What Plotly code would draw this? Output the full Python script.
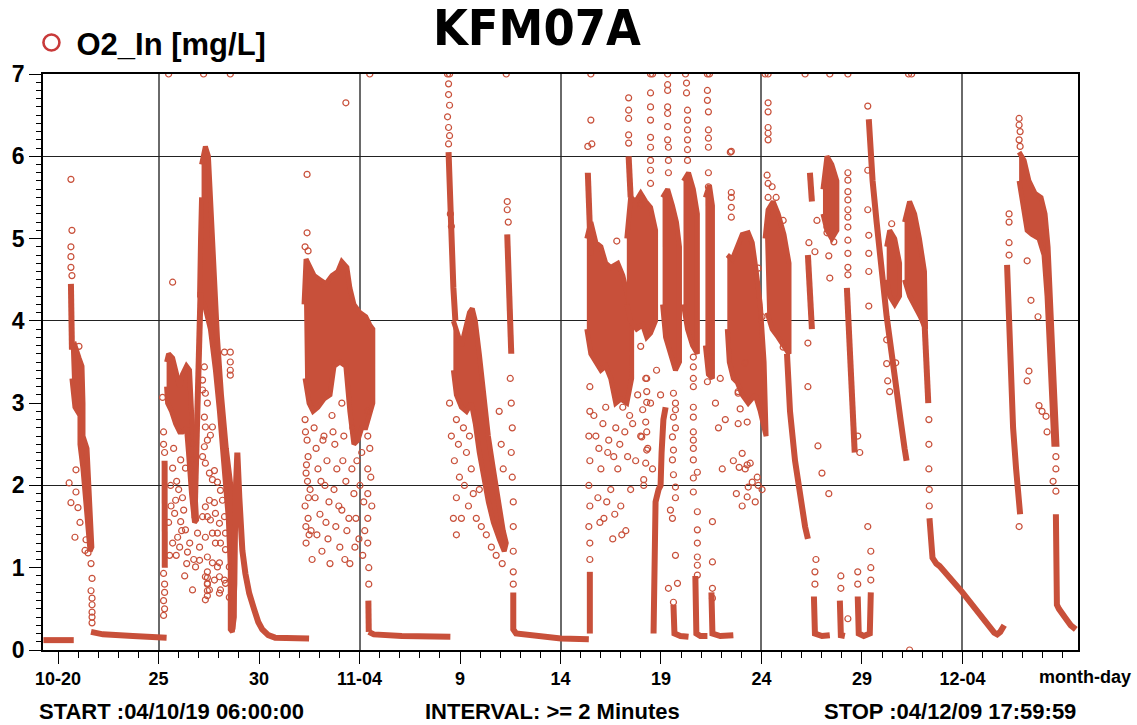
import pandas as pd
import plotly.graph_objects as go

C = "#C8503A"
ORIGIN = pd.Timestamp("2004-10-01")  # day number 1 = 2004-10-01 00:00


def T(days):
    return [ORIGIN + pd.Timedelta(days=d - 1) for d in days]

# ---------------- data (day number, O2 mg/L) ----------------
# dense polygons (outline of solid point clouds)
a_poly_t = [20.64, 20.84, 21.04, 21.19, 21.24, 21.24, 21.44, 21.59, 21.68, 21.59, 21.44, 21.24, 21.09, 21.09, 20.84, 20.69]
a_poly_v = [3.65, 3.70, 3.55, 3.45, 3.00, 2.60, 2.45, 1.80, 1.25, 1.20, 1.70, 2.20, 2.50, 2.85, 2.95, 3.30]
b_blob_t = [25.40, 25.50, 25.70, 25.90, 26.05, 26.19, 26.39, 26.54, 26.64, 26.74, 26.84, 26.89, 26.79, 26.64, 26.49, 26.39, 26.19, 26.05, 25.85, 25.65, 25.45, 25.40]
b_blob_v = [3.50, 3.60, 3.55, 3.35, 3.20, 3.35, 3.45, 3.40, 3.00, 2.40, 1.80, 1.58, 1.55, 1.90, 2.40, 2.70, 2.65, 2.65, 2.75, 2.90, 3.00, 3.20]
b_peak_t = [27.14, 27.24, 27.33, 27.48, 27.58, 27.73, 27.93, 28.13, 28.37, 28.62, 28.77, 28.77, 28.67, 28.57, 28.57, 28.47,
            28.28, 28.03, 27.83, 27.58, 27.28, 27.04, 27.09, 27.14]
b_peak_v = [5.90, 6.05, 6.12, 6.00, 5.50, 4.70, 3.80, 3.10, 2.45, 1.95, 1.30, 0.40, 0.22, 0.25, 1.00, 1.60,
            2.20, 2.90, 3.40, 3.90, 4.20, 4.30, 5.00, 5.50]
c_poly_t = [32.24, 32.34, 32.54, 32.74, 33.03, 33.33, 33.63, 33.92, 34.12, 34.37, 34.52, 34.72, 35.02, 35.31, 35.51, 35.66,
            35.66, 35.51, 35.31, 35.11, 34.92, 34.72, 34.52, 34.32, 34.02, 33.73, 33.53, 33.23, 32.93, 32.69, 32.49, 32.29]
c_poly_v = [4.20, 4.75, 4.65, 4.55, 4.50, 4.45, 4.55, 4.60, 4.72, 4.65, 4.40, 4.20, 4.10, 4.05, 3.95, 3.90,
            3.00, 2.85, 2.70, 2.70, 2.55, 2.50, 2.90, 3.45, 3.50, 3.45, 3.10, 3.05, 2.95, 2.90, 3.00, 3.30]
d_poly_t = [39.67, 39.87, 40.07, 40.27, 40.47, 40.61, 40.76, 40.96, 41.16, 41.41, 41.66, 41.90, 42.15, 42.30,
            42.20, 41.95, 41.66, 41.41, 41.16, 40.96, 40.76, 40.56, 40.32, 40.07, 39.82, 39.67]
d_poly_v = [4.00, 3.85, 3.70, 3.90, 4.10, 4.15, 4.00, 3.60, 3.10, 2.60, 2.20, 1.80, 1.45, 1.30,
            1.20, 1.35, 1.55, 1.80, 2.10, 2.40, 2.75, 3.00, 2.90, 2.95, 3.10, 3.40]
e1_poly_t = [46.31, 46.51, 46.76, 47.01, 47.25, 47.50, 47.85, 48.10, 48.34, 48.54, 48.54, 48.30, 48.00, 47.75, 47.50, 47.25, 47.01, 46.76, 46.51, 46.31]
e1_poly_v = [5.00, 5.20, 4.95, 4.90, 4.70, 4.65, 4.70, 4.55, 4.30, 4.05, 3.30, 3.00, 3.05, 3.00, 3.30, 3.45, 3.40, 3.50, 3.60, 3.90]
e2_poly_t = [48.30, 48.49, 48.74, 48.99, 49.24, 49.48, 49.73, 49.73, 49.48, 49.29, 49.09, 48.79, 48.49, 48.30]
e2_poly_v = [5.00, 5.50, 5.45, 5.55, 5.45, 5.38, 5.10, 4.00, 3.85, 3.80, 3.95, 3.90, 4.00, 4.20]
e3_poly_t = [50.08, 50.33, 50.57, 50.77, 50.92, 50.92, 50.72, 50.48, 50.23, 50.08]
e3_poly_v = [5.50, 5.60, 5.40, 5.20, 4.90, 3.50, 3.40, 3.60, 3.80, 4.20]
e4_poly_t = [51.12, 51.37, 51.61, 51.81, 51.81, 51.57, 51.32, 51.12]
e4_poly_v = [5.70, 5.80, 5.60, 5.30, 3.60, 3.70, 3.90, 4.20]
e5_poly_t = [52.21, 52.41, 52.56, 52.56, 52.36, 52.21]
e5_poly_v = [5.50, 5.65, 5.40, 3.30, 3.35, 3.70]
e6_poly_t = [53.30, 53.55, 53.80, 54.04, 54.34, 54.54, 54.74, 54.94, 55.13, 55.23, 54.94, 54.69, 54.34, 54.04, 53.80, 53.60, 53.40, 53.30]
e6_poly_v = [4.80, 4.75, 4.90, 5.05, 5.07, 4.95, 4.60, 4.20, 3.50, 2.60, 2.90, 3.10, 3.00, 3.10, 3.25, 3.30, 3.50, 3.90]
f1_poly_t = [55.18, 55.33, 55.58, 55.83, 56.12, 56.37, 56.37, 56.12, 55.83, 55.53, 55.28]
f1_poly_v = [5.00, 5.35, 5.45, 5.30, 5.05, 4.70, 3.60, 3.70, 3.80, 3.90, 4.10]
f2_poly_t = [58.06, 58.26, 58.50, 58.75, 58.75, 58.50, 58.26, 58.06]
f2_poly_v = [5.60, 6.00, 5.90, 5.70, 5.10, 5.00, 5.10, 5.30]
f3_poly_t = [61.23, 61.38, 61.63, 61.87, 61.87, 61.63, 61.38, 61.23]
f3_poly_v = [4.90, 5.10, 5.00, 4.70, 4.30, 4.20, 4.30, 4.50]
f4_poly_t = [62.12, 62.37, 62.62, 62.86, 63.11, 63.16, 62.91, 62.62, 62.37, 62.12]
f4_poly_v = [5.20, 5.45, 5.30, 5.00, 4.60, 3.90, 4.05, 4.20, 4.30, 4.50]
g_poly_t = [67.82, 68.07, 68.31, 68.61, 68.91, 69.11, 69.26, 69.36, 69.46, 69.60, 69.70,
            69.55, 69.46, 69.36, 69.21, 69.06, 68.81, 68.46, 68.22, 68.02, 67.82]
g_poly_v = [6.05, 5.95, 5.70, 5.55, 5.50, 5.30, 4.90, 4.40, 3.70, 3.00, 2.50,
            2.50, 3.00, 3.70, 4.30, 4.80, 5.00, 5.05, 5.10, 5.40, 5.70]

# dense strands (continuous bands of points)
a_flat_t = [19.27, 20.78]
a_flat_v = [0.12, 0.12]
a_col_t = [20.64, 20.66, 20.69]
a_col_v = [4.45, 4.00, 3.65]
a_low_t = [21.64, 22.23, 23.72, 25.40]
a_low_v = [0.22, 0.19, 0.17, 0.15]
b_col_t = [25.30, 25.31]
b_col_v = [2.30, 1.00]
b_rise_t = [26.79, 26.89, 26.99, 27.04, 27.09]
b_rise_v = [1.60, 2.60, 3.30, 3.80, 4.35]
b_decay_t = [28.67, 28.77, 28.82, 28.87, 28.92, 29.02, 29.17, 29.32, 29.51, 29.76, 29.96, 30.16, 30.46, 30.80, 31.65, 32.49]
b_decay_v = [0.25, 0.80, 1.80, 2.30, 2.40, 1.85, 1.21, 0.93, 0.69, 0.49, 0.34, 0.25, 0.18, 0.15, 0.14, 0.14]
c_col_t = [35.44, 35.46]
c_col_v = [0.60, 0.22]
c_low_t = [35.46, 35.71, 37.10, 39.52]
c_low_v = [0.22, 0.19, 0.17, 0.16]
d_col_t = [39.43, 39.48, 39.57, 39.67, 39.77]
d_col_v = [6.05, 5.60, 5.00, 4.40, 4.00]
d_str_t = [42.35, 42.40, 42.45, 42.50, 42.55]
d_str_v = [5.05, 4.60, 4.20, 3.85, 3.60]
d_low_t = [42.65, 42.65, 42.79, 44.03, 45.02, 46.41]
d_low_v = [0.70, 0.25, 0.20, 0.17, 0.14, 0.13]
e_col_t = [46.36, 46.41, 46.51]
e_col_v = [5.80, 5.30, 4.80]
e_bot_t = [46.46, 46.46]
e_bot_v = [0.95, 0.20]
e2_col_t = [48.39, 48.49]
e2_col_v = [6.00, 5.50]
e_rise_t = [49.63, 49.68, 49.73, 49.88, 49.98, 50.03, 50.12, 50.23]
e_rise_v = [0.20, 1.00, 1.80, 1.95, 2.00, 2.40, 2.80, 2.95]
e_low2_t = [50.62, 50.67, 50.97, 51.37]
e_low2_v = [0.55, 0.20, 0.17, 0.16]
e_low3_t = [51.71, 51.76, 51.96, 52.31]
e_low3_v = [0.90, 0.20, 0.17, 0.17]
e_low4_t = [52.51, 52.56, 52.95, 53.60]
e_low4_v = [0.70, 0.20, 0.17, 0.18]
f_decay_t = [56.27, 56.32, 56.42, 56.67, 56.92, 57.17, 57.31]
f_decay_v = [3.60, 3.35, 2.90, 2.30, 1.85, 1.50, 1.35]
f_col1_t = [57.41, 57.51]
f_col1_v = [5.80, 5.45]
f_col2_t = [57.31, 57.51]
f_col2_v = [4.80, 3.90]
f_col3_t = [59.25, 59.35, 59.45, 59.54, 59.64]
f_col3_v = [4.40, 3.80, 3.20, 2.80, 2.40]
f_long_t = [60.34, 60.39, 60.53, 60.73, 60.88, 61.03, 61.23, 61.48, 61.73, 61.92, 62.12, 62.22]
f_long_v = [6.45, 6.20, 5.70, 5.20, 4.80, 4.40, 4.05, 3.60, 3.20, 2.80, 2.45, 2.30]
f_low1_t = [57.61, 57.66, 58.01, 58.40]
f_low1_v = [0.65, 0.20, 0.17, 0.18]
f_low2_t = [58.90, 58.95, 59.15]
f_low2_v = [0.60, 0.18, 0.17]
f_low3_t = [59.79, 59.84, 60.09, 60.39, 60.44]
f_low3_v = [0.65, 0.20, 0.17, 0.20, 0.70]
g_drop_t = [63.11, 63.21, 63.30]
g_drop_v = [4.00, 3.50, 3.00]
g_decl_t = [63.36, 63.41, 63.51, 63.70, 63.86, 65.00, 65.84, 66.33, 66.58, 66.73, 66.88, 67.08]
g_decl_v = [1.60, 1.30, 1.12, 1.05, 1.02, 0.70, 0.45, 0.28, 0.21, 0.19, 0.22, 0.30]
g_str_t = [67.22, 67.32, 67.42, 67.52, 67.67, 67.77, 67.87]
g_str_v = [4.68, 4.00, 3.30, 2.70, 2.20, 1.85, 1.65]
g_tail_t = [69.65, 69.70, 69.80, 70.00, 70.15, 70.39, 70.64]
g_tail_v = [1.65, 0.55, 0.50, 0.42, 0.38, 0.30, 0.25]

# individual scattered points
a_pts_t = [20.64, 20.69, 20.64, 20.64, 20.64, 20.69, 21.04, 20.55, 20.64, 20.89, 20.89, 20.99, 21.09, 20.84, 21.39, 21.34,
           21.49, 21.64, 21.69, 21.64, 21.69, 21.69, 21.69, 21.69, 21.69]
a_pts_v = [5.72, 5.10, 4.90, 4.78, 4.65, 4.55, 3.69, 2.03, 1.79, 2.19, 1.92, 1.73, 1.55, 1.37, 1.34, 1.21,
           1.18, 1.05, 0.87, 0.72, 0.63, 0.55, 0.46, 0.40, 0.33]
b_pts_t = [25.20, 25.25, 25.25, 25.30, 25.25, 25.30, 25.30, 25.25, 25.30, 25.25,
           26.10, 26.34, 25.70, 26.19, 25.85, 25.80, 26.10, 26.34, 25.95, 26.05, 26.44, 26.69, 26.84, 27.04, 27.04,
           26.94, 27.19, 27.33, 27.43, 27.53, 27.78, 27.83, 27.58, 27.33, 27.68, 27.93, 28.08, 27.43, 27.68, 27.93,
           27.33, 27.53, 27.33, 28.03, 28.08, 28.28, 28.33, 28.28, 28.18, 28.08, 27.93, 27.68, 27.53, 27.33, 27.19,
           27.28, 27.43, 27.58, 27.68, 27.33, 27.28, 27.43, 27.33, 27.19, 27.28, 27.19, 26.69, 26.69, 28.28, 28.57,
           28.57, 28.57, 28.57, 25.70, 25.50, 27.24, 28.57, 27.78, 28.03, 27.83, 28.33, 28.52, 28.03, 27.78, 27.43,
           28.03, 28.33, 28.52, 27.43, 27.43, 27.43, 27.43, 27.43, 25.60, 25.50, 25.70, 25.55,
           25.75, 25.90, 26.00, 26.25, 26.40, 26.55, 25.62, 25.88, 26.15, 26.30, 26.60, 26.75]
b_pts_v = [3.07, 2.65, 2.50, 2.40, 0.93, 0.80, 0.70, 0.60, 0.50, 0.42,
           2.31, 2.21, 2.21, 1.85, 1.82, 1.66, 1.56, 1.46, 1.37, 1.25, 1.19, 0.73, 1.01, 1.09, 1.25,
           1.42, 1.62, 1.74, 1.62, 1.82, 1.79, 1.66, 1.58, 1.37, 1.42, 1.42, 1.30, 1.13, 1.06, 1.01,
           0.89, 0.73, 0.61, 0.89, 0.73, 0.85, 1.42, 1.62, 1.82, 1.94, 2.04, 2.07, 2.15, 2.27, 2.35,
           2.47, 2.55, 2.61, 2.71, 2.71, 2.83, 3.00, 3.12, 3.16, 3.44, 3.28, 2.31, 2.51, 3.62, 3.62,
           3.50, 3.40, 3.34, 4.47, 7.00, 7.00, 7.00, 2.18, 1.54, 1.30, 1.22, 1.01, 1.06, 0.85, 0.81,
           0.69, 0.81, 0.64, 0.95, 0.88, 0.80, 0.72, 0.66, 2.00, 1.55, 1.30, 1.15,
           2.45, 2.05, 1.95, 1.70, 1.05, 1.30, 1.75, 1.15, 1.45, 0.90, 2.20, 1.10]
c_pts_t = [32.39, 32.39, 34.32, 35.51, 32.29, 32.44,
           32.29, 32.39, 32.44, 32.34, 32.54, 32.29, 32.44, 32.59, 32.34, 32.74, 32.84, 32.93, 32.79, 33.03, 32.88,
           33.13, 33.23, 33.38, 33.28, 33.48, 33.33, 33.63, 33.77, 33.87, 33.73, 33.97, 33.82, 34.02, 34.12, 34.22,
           34.17, 34.32, 34.12, 34.37, 34.27, 34.62, 34.72, 34.87, 34.82, 35.02, 34.97, 35.11, 35.21, 35.26, 35.41,
           35.41, 35.41, 35.41, 35.41, 35.41, 35.46, 35.46, 35.51, 35.56, 35.61, 34.52, 32.64, 33.53,
           32.31, 32.36, 32.41, 32.46, 32.33, 32.49, 33.08, 33.18, 33.43, 33.68, 34.47, 34.67, 34.77, 35.16]
c_pts_v = [5.78, 5.07, 6.65, 7.00, 4.90, 4.85,
           2.80, 2.55, 2.35, 2.15, 1.95, 1.75, 1.60, 1.45, 1.30, 2.70, 2.45, 2.20, 1.85, 1.65, 1.40,
           1.20, 2.60, 2.30, 2.00, 1.80, 1.55, 2.85, 2.50, 2.20, 1.95, 1.75, 1.50, 1.25, 3.00, 2.60,
           2.30, 2.05, 1.70, 1.45, 1.10, 2.20, 1.90, 2.30, 1.60, 2.00, 1.35, 2.40, 1.80, 1.45, 2.90,
           2.60, 2.20, 1.90, 1.60, 1.30, 1.00, 0.80, 2.45, 2.10, 1.75, 1.05, 1.10, 1.05,
           2.65, 2.25, 2.05, 1.85, 1.50, 1.40, 2.05, 2.55, 1.35, 2.65, 1.60, 2.70, 1.25, 1.15]
d_pts_t = [39.38, 39.48, 39.43, 39.43, 39.48, 39.38, 39.43, 39.48, 39.43, 39.52, 39.57,
           39.82, 39.92, 39.72, 39.97, 39.82, 40.07, 40.17, 40.32, 40.22, 40.47, 40.56, 40.42, 40.66, 40.81,
           40.96, 41.06, 39.82, 39.67, 41.31, 41.56, 41.80, 42.05, 42.15, 41.95, 42.10, 39.48, 39.57,
           42.30, 42.35, 42.35, 42.40, 42.50, 42.55, 42.60, 42.55, 42.60, 42.65, 42.65, 42.65, 42.65, 42.65]
d_pts_v = [7.00, 7.00, 6.88, 6.75, 6.62, 6.48, 6.35, 6.25, 6.15, 5.30, 5.15,
           2.80, 2.50, 2.30, 2.10, 1.85, 1.60, 2.70, 2.40, 2.00, 2.60, 2.20, 1.75, 1.90, 1.60,
           1.95, 1.50, 1.40, 1.60, 1.40, 1.25, 1.15, 2.50, 2.20, 2.90, 1.05, 3.00, 2.60,
           7.00, 5.45, 5.35, 5.20, 3.30, 3.00, 2.70, 2.40, 2.10, 1.80, 1.50, 1.20, 0.95, 0.80]
e_top_t = [46.51, 49.48, 49.58, 50.33, 51.22, 52.31, 52.41, 55.18, 55.33, 57.17, 58.40, 59.30, 62.32, 62.47,
           46.51, 46.36, 46.56, 48.39, 48.39, 48.39, 48.39, 48.39,
           49.48, 49.48, 49.48, 49.48, 49.48, 49.48, 49.48, 49.48,
           50.33, 50.33, 50.33, 50.33, 50.33, 50.33, 50.37, 50.37, 50.37,
           51.27, 51.27, 51.32, 51.32, 51.32, 51.32, 51.32, 51.32,
           52.31, 52.31, 52.36, 52.36, 52.36, 52.36, 52.36, 52.36,
           53.50, 53.50, 53.50, 53.50, 53.50, 47.80, 49.04, 48.99, 48.99]
e_top_v = [7.00, 7.00, 7.00, 7.00, 7.00, 7.00, 7.00, 7.00, 7.00, 7.00, 7.00, 7.00, 7.00, 7.00,
           6.44, 6.12, 6.15, 6.71, 6.56, 6.46, 6.26, 6.16,
           6.77, 6.60, 6.44, 6.23, 6.11, 5.95, 5.83, 5.67,
           6.87, 6.80, 6.60, 6.52, 6.36, 6.20, 6.11, 5.95, 5.80,
           6.89, 6.77, 6.56, 6.44, 6.32, 6.20, 6.08, 5.95,
           6.80, 6.68, 6.54, 6.32, 6.22, 6.11, 5.80, 5.63,
           6.06, 5.56, 5.50, 5.38, 5.26, 4.97, 5.50, 5.41, 3.69]
e_pts_t = [46.46, 46.46, 46.41, 46.46, 46.41, 46.46, 46.41, 46.46, 46.46,
           46.76, 46.86, 47.01, 47.16, 47.25, 47.35, 47.50, 47.60, 47.75, 47.85, 48.00, 48.10, 48.25, 48.34, 48.49,
           48.59, 48.74, 48.84, 48.99, 49.14, 49.24, 49.34, 49.48, 49.58, 49.78, 49.98,
           49.29, 49.29, 49.29, 49.09, 49.24, 49.29, 49.04, 49.29, 49.24, 49.14,
           50.62, 50.72, 50.72, 50.62, 50.72, 50.57, 50.62, 50.57, 50.62, 50.72, 50.72, 50.47, 50.57, 50.72, 50.82,
           50.37, 50.62, 51.61, 51.61, 51.61, 51.61, 51.61, 51.61, 51.61, 51.61, 51.81, 51.61, 51.61, 51.81, 51.81,
           51.81, 51.81, 51.81, 51.81, 52.56, 52.56, 52.56, 52.56, 51.61, 51.61, 52.31, 52.46,
           53.84, 53.94, 53.84, 54.04, 54.29, 53.89, 54.34, 54.29, 54.54, 54.79, 54.44, 54.29,
           52.71, 52.86, 52.95, 53.05, 53.20, 53.60, 53.75, 54.04, 54.19, 54.69, 54.84, 55.03,
           46.66, 46.91, 47.11, 47.40, 47.65, 47.95, 48.20, 48.44, 46.96, 47.30, 47.70, 48.05]
e_pts_v = [3.20, 2.90, 2.60, 2.30, 2.00, 1.75, 1.50, 1.30, 1.10,
           2.60, 1.85, 2.20, 1.60, 2.95, 2.40, 1.95, 1.35, 2.70, 2.20, 1.75, 2.95, 1.45, 2.35, 1.95,
           2.75, 2.30, 3.10, 2.60, 2.00, 3.30, 2.45, 3.00, 2.20, 3.40, 3.10,
           3.30, 3.14, 3.01, 2.92, 2.77, 2.65, 2.59, 2.43, 2.27, 2.07,
           3.12, 3.00, 2.92, 2.83, 2.70, 2.59, 2.43, 2.31, 2.13, 1.98, 1.85, 1.70, 1.60, 1.15, 0.81,
           0.75, 0.58, 3.30, 3.20, 2.95, 2.83, 2.65, 2.55, 2.45, 2.31, 2.16, 2.09, 1.92, 1.68, 1.46,
           1.30, 1.13, 1.03, 0.91, 1.56, 1.07, 0.75, 0.63, 3.56, 3.44, 3.26, 3.56,
           3.14, 2.93, 2.75, 2.39, 2.25, 2.22, 1.98, 1.86, 2.04, 2.10, 2.27, 2.77,
           3.00, 2.70, 3.30, 2.20, 2.80, 2.30, 1.90, 1.75, 2.20, 1.80, 2.00, 1.95,
           2.85, 2.45, 2.75, 2.55, 2.35, 2.50, 2.65, 2.85, 1.55, 1.80, 1.65, 1.40]
f_pts_t = [53.45, 60.29, 55.33, 55.33, 55.33, 55.33, 55.33, 55.28, 55.33, 55.53, 55.33, 55.73, 56.08,
           59.30, 59.30, 59.30, 59.30, 59.30, 59.30, 59.30, 59.30, 59.30, 59.30, 59.30,
           60.29, 60.29, 60.34, 60.34, 60.34, 60.34, 61.48, 61.23, 61.23, 61.28, 61.38, 61.68,
           57.76, 57.36, 57.66, 57.31, 57.31, 58.40, 58.35, 58.26, 58.26, 58.60,
           56.08, 54.84, 55.03, 54.19, 53.84, 59.30, 62.37,
           57.66, 57.66, 57.71, 58.95, 58.95, 59.79, 59.79, 60.44, 60.44, 60.44,
           57.81, 58.01, 58.35, 59.79, 59.89, 60.29]
f_pts_v = [6.05, 6.61, 6.65, 6.54, 6.35, 6.28, 6.20, 5.77, 5.67, 5.63, 5.50, 5.50, 5.22,
           5.80, 5.71, 5.57, 5.47, 5.35, 5.26, 5.14, 4.98, 4.82, 4.65, 4.56,
           5.83, 5.35, 5.04, 4.82, 4.60, 4.18, 5.18, 3.77, 3.48, 3.27, 3.14, 3.49,
           5.22, 4.95, 4.84, 3.73, 3.20, 4.52, 4.79, 5.14, 5.07, 4.96,
           3.68, 4.64, 4.05, 3.49, 3.12, 0.38, 0.00,
           0.80, 0.95, 1.10, 0.75, 0.90, 0.80, 0.95, 0.85, 1.00, 1.20,
           2.48, 2.15, 1.90, 2.60, 2.40, 1.50]
g_pts_t = [63.33, 63.33, 63.33, 63.35, 63.35, 67.32, 67.32, 67.32, 67.32, 67.82,
           67.82, 67.82, 67.87, 67.82, 67.87,
           68.22, 68.41, 68.76, 68.31, 68.22, 68.81, 68.96, 69.16, 69.21, 69.51, 69.65, 69.65, 69.65]
g_pts_v = [2.80, 2.50, 2.20, 1.95, 1.75, 5.30, 5.20, 4.95, 4.80, 1.50,
           6.46, 6.38, 6.30, 6.20, 6.12,
           4.73, 4.25, 4.05, 3.39, 3.27, 2.97, 2.90, 2.84, 2.65, 2.05, 1.93, 2.20, 2.35]

polygons = [(a_poly_t, a_poly_v), (b_blob_t, b_blob_v), (b_peak_t, b_peak_v), (c_poly_t, c_poly_v),
            (d_poly_t, d_poly_v), (e1_poly_t, e1_poly_v), (e2_poly_t, e2_poly_v), (e3_poly_t, e3_poly_v),
            (e4_poly_t, e4_poly_v), (e5_poly_t, e5_poly_v), (e6_poly_t, e6_poly_v), (f1_poly_t, f1_poly_v),
            (f2_poly_t, f2_poly_v), (f3_poly_t, f3_poly_v), (f4_poly_t, f4_poly_v), (g_poly_t, g_poly_v)]
strands = [(a_flat_t, a_flat_v), (a_col_t, a_col_v), (a_low_t, a_low_v), (b_col_t, b_col_v), (b_rise_t, b_rise_v),
           (b_decay_t, b_decay_v), (c_col_t, c_col_v), (c_low_t, c_low_v), (d_col_t, d_col_v), (d_str_t, d_str_v),
           (d_low_t, d_low_v), (e_col_t, e_col_v), (e_bot_t, e_bot_v), (e2_col_t, e2_col_v), (e_rise_t, e_rise_v),
           (e_low2_t, e_low2_v), (e_low3_t, e_low3_v), (e_low4_t, e_low4_v), (f_decay_t, f_decay_v),
           (f_col1_t, f_col1_v), (f_col2_t, f_col2_v), (f_col3_t, f_col3_v), (f_long_t, f_long_v),
           (f_low1_t, f_low1_v), (f_low2_t, f_low2_v), (f_low3_t, f_low3_v), (g_drop_t, g_drop_v),
           (g_decl_t, g_decl_v), (g_str_t, g_str_v), (g_tail_t, g_tail_v)]
points = [(a_pts_t, a_pts_v), (b_pts_t, b_pts_v), (c_pts_t, c_pts_v), (d_pts_t, d_pts_v), (e_top_t, e_top_v),
          (e_pts_t, e_pts_v), (f_pts_t, f_pts_v), (g_pts_t, g_pts_v)]

major_ticks = ["2004-10-20", "2004-10-25", "2004-10-30", "2004-11-04", "2004-11-09",
               "2004-11-14", "2004-11-19", "2004-11-24", "2004-11-29", "2004-12-04"]
major_labels = ["10-20", "25", "30", "11-04", "9", "14", "19", "24", "29", "12-04"]
grid_days = ["2004-10-25", "2004-11-04", "2004-11-14", "2004-11-24", "2004-12-04"]
grid_levels = [2, 4, 6]
x_range = ["2004-10-19 06:00:00", "2004-12-09 17:59:59"]

# ---------------- figure ----------------
fig = go.Figure()
for t, v in polygons:
    fig.add_trace(go.Scatter(x=T(t), y=v, mode="lines", fill="toself", fillcolor=C,
                             line=dict(color=C, width=5), hoverinfo="skip", showlegend=False))
for t, v in strands:
    fig.add_trace(go.Scatter(x=T(t), y=v, mode="lines", line=dict(color=C, width=6),
                             hoverinfo="skip", showlegend=False))
for t, v in points:
    fig.add_trace(go.Scatter(x=T(t), y=v, mode="markers",
                             marker=dict(symbol="circle-open", size=6, color=C, line=dict(width=1.2)),
                             showlegend=False))
# legend entry
fig.add_trace(go.Scatter(x=[None], y=[None], mode="markers", name="O2_In [mg/L]",
                         marker=dict(symbol="circle-open", size=16, color="#C83A3A", line=dict(width=2.6)),
                         showlegend=True))
# invisible trace for the grid axes
fig.add_trace(go.Scatter(x=[None], y=[None], xaxis="x2", yaxis="y2", showlegend=False, hoverinfo="skip"))

bold = dict(family="Liberation Sans, Arial, sans-serif", color="black", weight="bold")
fig.update_layout(
    width=1137, height=725, autosize=False,
    margin=dict(l=40, r=59, t=74, b=75),
    paper_bgcolor="white", plot_bgcolor="white",
    showlegend=True,
    legend=dict(x=-0.016, y=1.054, xanchor="left", yanchor="middle", font=dict(size=31, **bold),
                itemsizing="trace", itemwidth=40, bgcolor="rgba(0,0,0,0)", borderwidth=0),
    xaxis=dict(type="date", range=x_range, tickvals=major_ticks, ticktext=major_labels,
               ticks="outside", ticklen=12, tickwidth=1.3, tickcolor="black",
               minor=dict(ticks="outside", ticklen=6, tickwidth=1, tickcolor="black",
                          tickvals=[str(d.date()) for d in pd.date_range("2004-10-20", "2004-12-09")]),
               showgrid=False, zeroline=False, showline=True, linecolor="black", linewidth=1.5, mirror=True,
               tickfont=dict(size=18, **bold)),
    yaxis=dict(range=[0, 7], tickvals=list(range(8)), ticks="outside", ticklen=12, tickwidth=1.3,
               tickcolor="black", minor=dict(ticks="outside", ticklen=5, tickwidth=1, tickcolor="black", dtick=0.1),
               showgrid=False, zeroline=False, showline=True, linecolor="black", linewidth=1.5, mirror=True,
               tickfont=dict(size=23, **bold)),
    xaxis2=dict(type="date", overlaying="x", range=x_range, tickvals=grid_days, showticklabels=False,
                ticks="", showgrid=True, gridcolor="#6a6a6a", gridwidth=1.5, zeroline=False, showline=False),
    yaxis2=dict(overlaying="y", range=[0, 7], tickvals=grid_levels, showticklabels=False, ticks="",
                showgrid=True, gridcolor="#222222", gridwidth=1.2, zeroline=False, showline=False),
)

ann = [
    dict(text="KFM07A", x=0.4769, y=1.080, font=dict(size=50, family="Liberation Sans Narrow, DejaVu Sans Condensed, sans-serif", color="black", weight="bold")),
    dict(text="START :04/10/19 06:00:00", x=-0.006, y=-0.1076, xanchor="left", font=dict(size=22, **bold)),
    dict(text="INTERVAL: >= 2 Minutes", x=0.4923, y=-0.1076, font=dict(size=22, **bold)),
    dict(text="STOP :04/12/09 17:59:59", x=1.0, y=-0.1076, xanchor="right", font=dict(size=22, **bold)),
    dict(text="month-day", x=1.0067, y=-0.047, font=dict(size=18, **bold)),
]
for a in ann:
    a.setdefault("xanchor", "center")
    fig.add_annotation(xref="paper", yref="paper", yanchor="middle", showarrow=False, **a)

fig.write_html("out.html")
